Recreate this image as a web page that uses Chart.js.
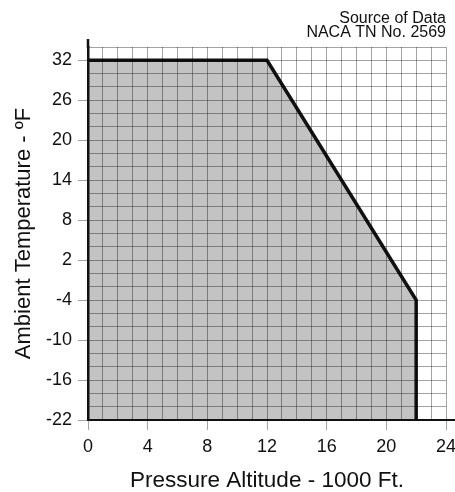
<!DOCTYPE html>
<html>
<head>
<meta charset="utf-8">
<script src="https://cdn.jsdelivr.net/npm/chart.js@4"></script>
<style>
  html, body { margin: 0; padding: 0; background: #ffffff; }
  #wrap { width: 455px; height: 492px; }
</style>
</head>
<body>
<div id="wrap"><canvas id="c" width="455" height="492"></canvas></div>
<script>
// Icing envelope boundary: pressure altitude (1000 ft) vs ambient temperature (°F)
const altitudes = [0, 12, 22, 22];
const temperatures = [32, 32, -4, -22];

// Axis ranges and labelled tick values
const xMin = 0, xMax = 24, xStep = 1;
const yMin = -22, yMax = 34, yStep = 2;
const xLabels = [0, 4, 8, 12, 16, 20, 24];
const yLabels = [-22, -16, -10, -4, 2, 8, 14, 20, 26, 32];

const sourceLines = ['Source of Data', 'NACA TN No. 2569'];

const gridColor = 'rgba(0,0,0,0.36)';
const FONT = 'Liberation Sans, Arial, Helvetica, sans-serif';

// Axis lines run a little past the grid at the top and right
const axisExtension = {
  id: 'axisExtension',
  afterDraw(chart) {
    const { ctx, chartArea: a, width } = chart;
    ctx.save();
    ctx.strokeStyle = '#111';
    ctx.lineWidth = 2.5;
    ctx.beginPath();
    ctx.moveTo(a.left, a.top + 1);
    ctx.lineTo(a.left, a.top - 8);
    ctx.stroke();
    ctx.lineWidth = 2;
    ctx.beginPath();
    ctx.moveTo(a.right - 1, a.bottom);
    ctx.lineTo(width, a.bottom);
    ctx.stroke();
    ctx.restore();
  }
};

const points = altitudes.map((x, i) => ({ x, y: temperatures[i] }));

new Chart(document.getElementById('c'), {
  type: 'scatter',
  data: {
    datasets: [{
      data: points,
      showLine: true,
      borderColor: '#111',
      borderWidth: 3.5,
      borderJoinStyle: 'miter',
      backgroundColor: '#c3c3c3',
      fill: 'start',
      pointRadius: 0,
      pointHoverRadius: 0,
      tension: 0
    }]
  },
  plugins: [axisExtension],
  options: {
    responsive: false,
    animation: false,
    events: [],
    layout: { padding: { top: 0, right: 9, bottom: 0, left: 0 } },
    plugins: {
      legend: { display: false },
      tooltip: { enabled: false },
      title: {
        display: true,
        text: sourceLines,
        align: 'end',
        color: '#111',
        font: { family: FONT, size: 16, weight: 'normal', lineHeight: 0.875 },
        padding: { top: 12, bottom: 7 }
      }
    },
    scales: {
      x: {
        type: 'linear',
        min: xMin,
        max: xMax,
        afterFit(scale) { scale.height = 72; scale.paddingRight = 0; },
        ticks: {
          stepSize: xStep,
          autoSkip: false,
          maxRotation: 0,
          padding: 6,
          color: '#111',
          font: { family: FONT, size: 18 },
          callback: v => (xLabels.includes(v) ? String(v) : '')
        },
        grid: {
          z: 1,
          color: gridColor,
          lineWidth: 1,
          tickLength: 10,
          tickColor: ctx => (xLabels.includes(ctx.tick && ctx.tick.value) ? gridColor : 'rgba(0,0,0,0)')
        },
        border: { z: 2, color: '#111', width: 2 },
        title: {
          display: true,
          text: 'Pressure Altitude - 1000 Ft.',
          color: '#111',
          font: { family: FONT, size: 22.5, lineHeight: 1 },
          padding: { top: 0, bottom: 0 }
        }
      },
      y: {
        type: 'linear',
        min: yMin,
        max: yMax,
        afterFit(scale) { scale.width = 88; },
        ticks: {
          stepSize: yStep,
          autoSkip: false,
          padding: 6,
          color: '#111',
          font: { family: FONT, size: 18 },
          callback: v => (yLabels.includes(v) ? String(v) : '')
        },
        grid: {
          z: 1,
          color: gridColor,
          lineWidth: 1,
          tickLength: 10,
          tickColor: ctx => (yLabels.includes(ctx.tick && ctx.tick.value) ? gridColor : 'rgba(0,0,0,0)')
        },
        border: { z: 2, color: '#111', width: 2.5 },
        title: {
          display: true,
          text: 'Ambient Temperature - ºF',
          color: '#111',
          font: { family: FONT, size: 22, lineHeight: 1.2 },
          padding: { top: 11, bottom: 0 }
        }
      }
    }
  }
});
</script>
</body>
</html>
